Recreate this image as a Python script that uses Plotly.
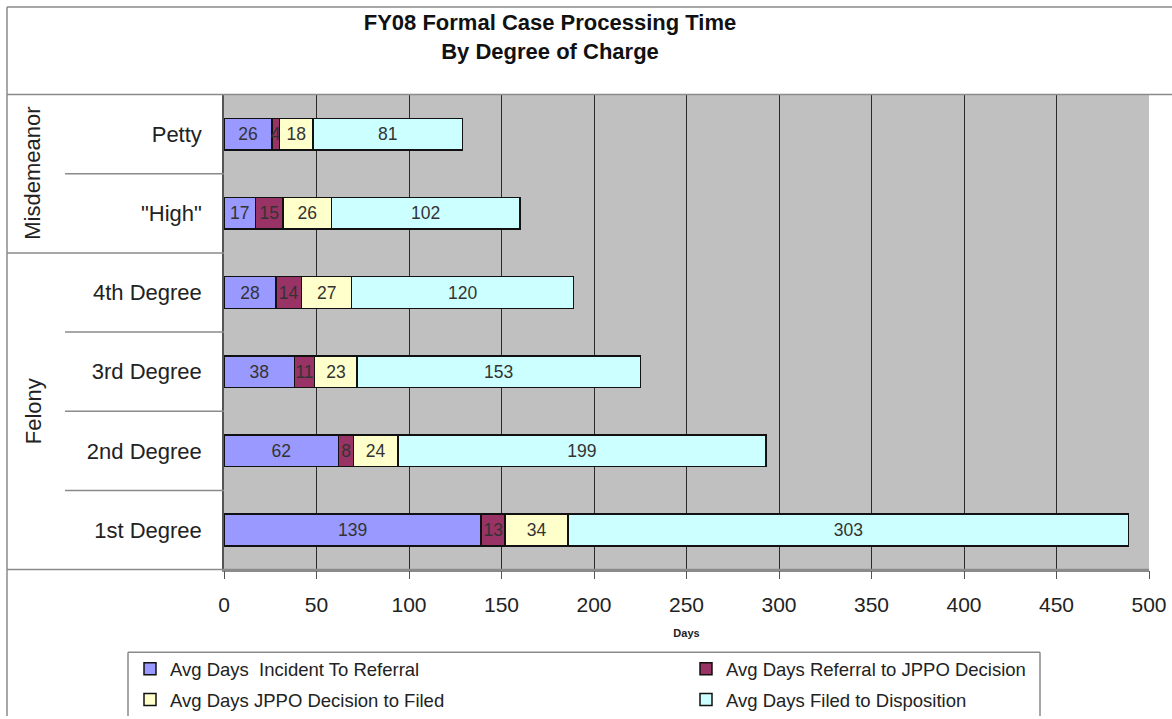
import plotly.graph_objects as go

W, H = 1172, 719

categories = ["Petty", "\"High\"", "4th Degree", "3rd Degree", "2nd Degree", "1st Degree"]
groups = ["Misdemeanor", "Misdemeanor", "Felony", "Felony", "Felony", "Felony"]

incident_to_referral = [26, 17, 28, 38, 62, 139]
referral_to_decision = [4, 15, 14, 11, 8, 13]
decision_to_filed = [18, 26, 27, 23, 24, 34]
filed_to_disposition = [81, 102, 120, 153, 199, 303]

series_names = [
    "Avg Days  Incident To Referral",
    "Avg Days Referral to JPPO Decision",
    "Avg Days JPPO Decision to Filed",
    "Avg Days Filed to Disposition",
]
series_values = [incident_to_referral, referral_to_decision, decision_to_filed, filed_to_disposition]
series_colors = ["#9999ff", "#993366", "#ffffcc", "#ccffff"]
legend_ids = ["legend", "legend2", "legend3", "legend4"]
# legend grid placement (pixel position of each entry: left edge, row centre)
legend_pos = [(130, 672), (686, 672), (130, 703), (686, 703)]

x_ticks = [0, 50, 100, 150, 200, 250, 300, 350, 400, 450, 500]

FONT = "Liberation Sans, Arial, sans-serif"


def px(x):
    return x / W


def py(y):
    return 1 - y / H


fig = go.Figure()
for name, vals, col, lg in zip(series_names, series_values, series_colors, legend_ids):
    fig.add_trace(go.Bar(
        y=categories, x=vals, name=name, orientation="h",
        marker=dict(color=col, line=dict(color="#111111", width=1.5)),
        text=[str(v) for v in vals], textposition="inside", insidetextanchor="middle",
        textangle=0, textfont=dict(family=FONT, size=19, color="#333333"),
        legend=lg, showlegend=True, hoverinfo="skip",
    ))

shapes = []
grey = "#8a8a8a"


def hline(x0, x1, y, yref="paper"):
    return dict(type="line", xref="paper", yref=yref, x0=x0, x1=x1, y0=y, y1=y,
                line=dict(color=grey, width=1.5))


def vline(x, y0, y1):
    return dict(type="line", xref="paper", yref="paper", x0=x, x1=x, y0=y0, y1=y1,
                line=dict(color=grey, width=1.5))


# outer border and title separator
shapes.append(vline(px(7), py(7), 0))
shapes.append(hline(px(7), 1, py(7)))
shapes.append(hline(px(7), 1, py(95)))
shapes.append(hline(px(7), px(1149), py(572)))
# category separators in the left panel
for i in range(len(categories) - 1):
    is_group_break = groups[i] != groups[i + 1]
    shapes.append(hline(px(7) if is_group_break else px(65), px(224), i + 0.5, yref="y"))
# legend box (cut by the bottom of the picture)
shapes.append(hline(px(128), px(1040), py(655)))
shapes.append(vline(px(128), py(655), 0))
shapes.append(vline(px(1040), py(655), 0))

annotations = []
# group labels
seen = []
for g in groups:
    if g not in seen:
        seen.append(g)
for g in seen:
    idx = [i for i, gg in enumerate(groups) if gg == g]
    center = (idx[0] + idx[-1]) / 2
    annotations.append(dict(text=g, xref="paper", yref="y", x=px(33), y=center, showarrow=False,
                            textangle=-90, xanchor="center", yanchor="middle",
                            font=dict(family=FONT, size=22, color="#222222")))

legend_layouts = {}
for lg, (lx, ly) in zip(legend_ids, legend_pos):
    legend_layouts[lg] = dict(orientation="h", x=px(lx), y=py(ly), xanchor="left", yanchor="middle",
                              bgcolor="rgba(0,0,0,0)", borderwidth=0, visible=True,
                              font=dict(family=FONT, size=18.5, color="#222222"))

fig.update_layout(
    width=W, height=H,
    margin=dict(l=0, r=0, t=0, b=0),
    paper_bgcolor="white",
    plot_bgcolor="#c0c0c0",
    barmode="stack",
    bargap=0.6,
    showlegend=True,
    font=dict(family=FONT, color="#222222"),
    title=dict(text="<b>FY08 Formal Case Processing Time<br>By Degree of Charge</b>",
               x=px(550), xanchor="center", y=py(30), yanchor="middle",
               font=dict(family=FONT, size=22, color="#111111")),
    xaxis=dict(domain=[px(224), px(1149)], range=[0, 500], tickvals=x_ticks,
               showgrid=True, gridcolor="#2a2a2a", gridwidth=1, zeroline=False,
               ticks="outside", ticklen=8, tickcolor="#555555",
               tickfont=dict(family=FONT, size=21, color="#222222"), ticklabelstandoff=7,
               showline=True, linecolor=grey, linewidth=1.5,
               title=dict(text="<b>Days</b>", font=dict(family=FONT, size=11, color="#222222"), standoff=15),
               automargin=False, fixedrange=True),
    yaxis=dict(domain=[py(572), py(95)], autorange="reversed", categoryorder="array",
               categoryarray=categories, showgrid=False, zeroline=False, ticks="",
               tickfont=dict(family=FONT, size=22, color="#222222"), ticklabelstandoff=16,
               showline=True, linecolor="#555555", linewidth=1.5, automargin=False, fixedrange=True),
    shapes=shapes,
    annotations=annotations,
    uniformtext=dict(minsize=17, mode="show"),
    **legend_layouts,
)

post = (
    "var d=document.getElementById('{plot_id}');"
    "var h=document.documentElement, b=document.body;"
    "[h,b].forEach(function(e){e.style.margin='0';e.style.padding='0';e.style.height='719px';"
    "e.style.overflow='hidden';e.style.fontSize='0';e.style.lineHeight='0';});"
    "if(d){d.style.display='block';d.style.overflow='hidden';"
    "if(d.parentElement){d.parentElement.style.fontSize='0';d.parentElement.style.lineHeight='0';"
    "d.parentElement.style.height='719px';d.parentElement.style.overflow='hidden';}}"
)

fig.write_html("out.html", config={"displayModeBar": False}, post_script=post)
